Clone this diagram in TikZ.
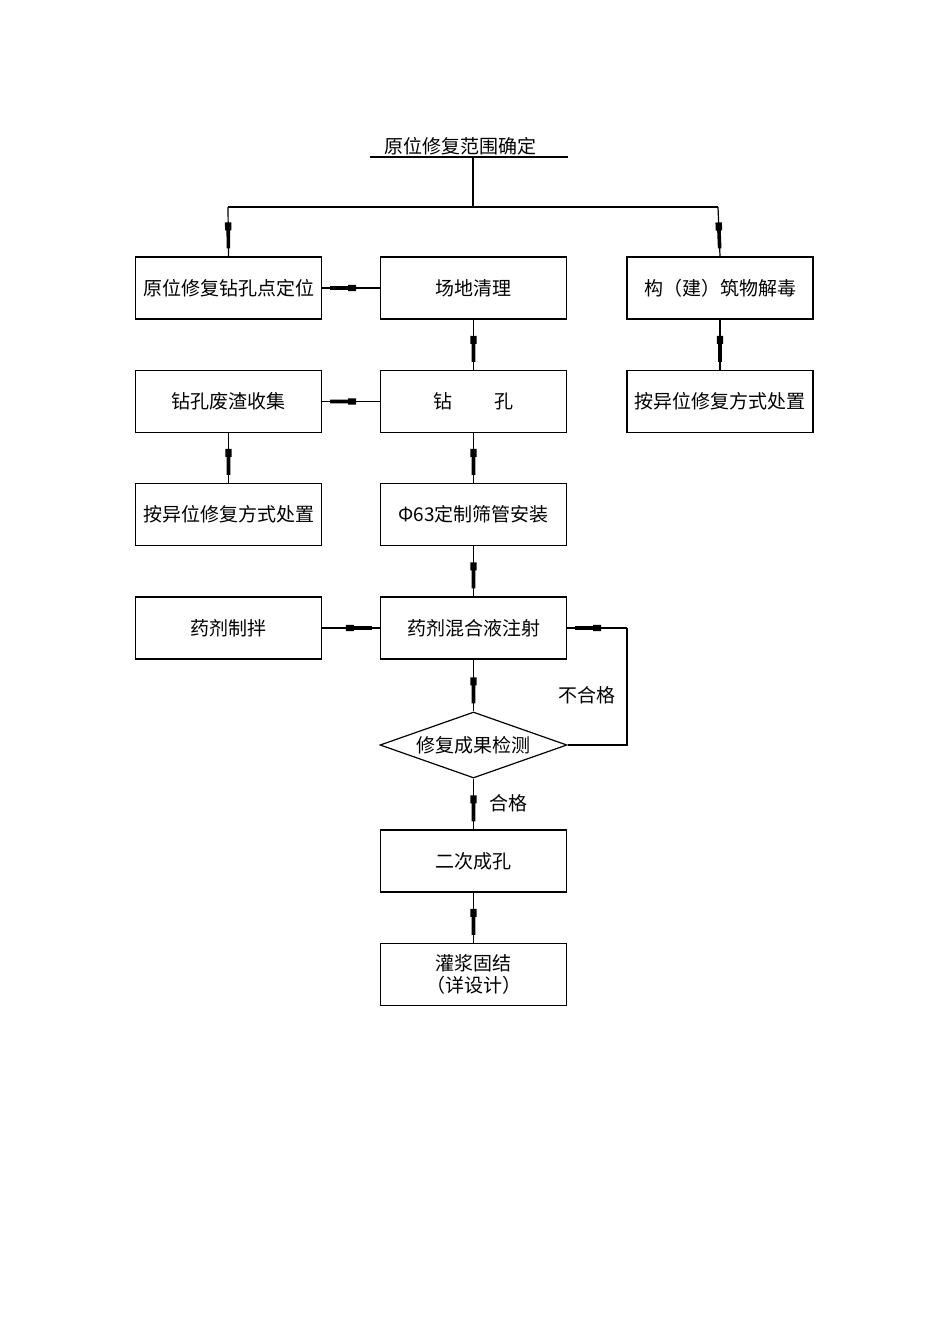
\documentclass[tikz,border=0pt]{standalone}
\usepackage{fontspec}
\setmainfont{Noto Sans CJK SC}
\usetikzlibrary{shapes.geometric,decorations.markings}
\begin{document}
\begin{tikzpicture}[x=1pt,y=-1pt,
  box/.style={draw,line width=1.2pt,minimum width=186pt,minimum height=62pt,inner sep=0pt,font=\fontsize{19}{22}\selectfont,align=center},
  lbl/.style={font=\fontsize{19}{22}\selectfont},
  ln/.style={line width=1.2pt},
  arr/.style={ln,postaction={decorate},decoration={markings,mark=at position -8pt with {
     \fill (-26,-3.2)--(-18,-3.2)--(-18,-1.8)--(0,-1.8)--(0,1.8)--(-18,1.8)--(-18,3.2)--(-26,3.2)--cycle;}}}]
\useasboundingbox (0,0) rectangle (950,1344);
\node[lbl] (top) at (460,146) {原位修复范围确定};
\coordinate (ul) at (370,157); \coordinate (ur) at (568,157);
\draw[ln] (ul)--(ur);
\coordinate (t0) at (473,157); \coordinate (t1) at (473,207);
\coordinate (tl) at (228,207); \coordinate (tr) at (718,207);
\node[box] (A) at (228.5,288) {原位修复钻孔点定位};
\node[box] (B) at (473.5,288) {场地清理};
\node[box] (C) at (720,288) {构（建）筑物解毒};
\node[box] (D) at (473.5,401.5) {钻\hspace{2.2em}孔};
\node[box] (E) at (720,401.5) {按异位修复方式处置};
\node[box] (F) at (228.5,401.5) {钻孔废渣收集};
\node[box] (G) at (228.5,514.5) {按异位修复方式处置};
\node[box] (H) at (473.5,514.5) {Φ63定制筛管安装};
\node[box] (I) at (473.5,628) {药剂混合液注射};
\node[box] (J) at (228.5,628) {药剂制拌};
\node[draw,line width=1.2pt,diamond,aspect=2.83,minimum width=187pt,minimum height=66pt,inner sep=0pt,font=\fontsize{19}{22}\selectfont] (K) at (473.5,745) {};
\node[lbl] at (K) {修复成果检测};
\node[box] (L) at (473.5,861) {二次成孔};
\node[box] (M) at (473.5,974.5) {灌浆固结\\（详设计）};
\draw[ln] (t0)--(t1);
\draw[ln] (tl)--(tr);
\draw[arr] (tl)--(A.north);
\draw[arr] (tr)--(C.north);
\draw[arr] (B)--(A);
\draw[arr] (B)--(D);
\draw[arr] (C)--(E);
\draw[arr] (D)--(F);
\draw[arr] (F)--(G);
\draw[arr] (D)--(H);
\draw[arr] (H)--(I);
\draw[arr] (J)--(I);
\draw[arr] (I)--(K);
\coordinate (k1) at (627,745); \coordinate (k2) at (627,628);
\draw[ln] (K.east)--(k1)--(k2);
\draw[arr] (k2)--(I.east);
\node[lbl] at (587,695) {不合格};
\draw[arr] (K)--(L);
\node[lbl] at (508,803) {合格};
\draw[arr] (L)--(M);
\end{tikzpicture}
\end{document}
